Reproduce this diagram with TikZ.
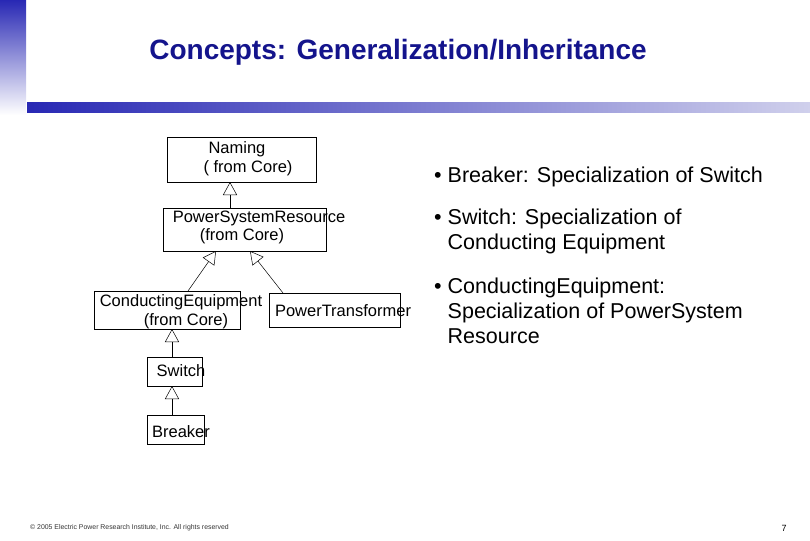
\documentclass[tikz,border=0pt]{standalone}
\usepackage{fontspec}
\setmainfont{Liberation Sans}
\usetikzlibrary{arrows.meta}
\definecolor{navy}{HTML}{14148C}
\definecolor{barblue}{HTML}{2828B4}
\definecolor{barlight}{HTML}{D0D0EC}
\begin{document}
\begin{tikzpicture}[x=1pt,y=-1pt,
  box/.style={draw,line width=0.6pt},
  lbl/.style={inner sep=0pt,font=\fontsize{16.5}{18}\selectfont},
  gen/.style={line width=0.5pt,-{Triangle[open,length=13pt,width=14pt]}},
  bul/.style={anchor=west,align=left,inner sep=0pt,font=\fontsize{21.5}{25}\selectfont}]
\useasboundingbox (0,0) rectangle (810,540);
\shade[top color=barblue,bottom color=white] (0,0) rectangle (26,115);
\shade[left color=barblue,right color=barlight] (27,103) rectangle (810,113);
\node[font=\fontsize{28}{32}\selectfont\bfseries,text=navy] (title) at (398,52) {Concepts: Generalization/Inheritance};
% boxes
\draw[box] (167,137) rectangle (316,182);
\coordinate (nb) at (230,182);
\node[lbl] (n1) at (237,149) {Naming};
\node[lbl] (n2) at (248,168) {( from Core)};
\draw[box] (163,208) rectangle (326,251);
\coordinate (pt) at (230,208);
\coordinate (pb1) at (216,251);
\coordinate (pb2) at (250,251);
\node[lbl] (p1) at (259,218) {PowerSystemResource};
\node[lbl] (p2) at (242,236) {(from Core)};
\draw[box] (94,291) rectangle (240,329);
\coordinate (ct) at (188,291);
\coordinate (cb) at (172,329);
\node[lbl] (c1) at (181,302) {ConductingEquipment};
\node[lbl] (c2) at (186,321) {(from Core)};
\draw[box] (269,293) rectangle (400,327);
\coordinate (tt) at (283,293);
\node[lbl] (t1) at (343,311) {PowerTransformer};
\draw[box] (147,357) rectangle (202,386);
\coordinate (st) at (172,357);
\coordinate (sb) at (172,386);
\node[lbl] (s1) at (181,371) {Switch};
\draw[box] (147,415) rectangle (204,444);
\coordinate (bt) at (172,415);
\node[lbl] (b1) at (181,432) {Breaker};
\draw[gen] (pt) -- (nb);
\draw[gen] (ct) -- (pb1);
\draw[gen] (tt) -- (pb2);
\draw[gen] (st) -- (cb);
\draw[gen] (bt) -- (sb);
% bullets
\node[bul] (bu1) at (434,177) {• Breaker: Specialization of Switch};
\node[bul] (bu2) at (434,231) {• Switch: Specialization of\\\hphantom{• }Conducting Equipment};
\node[bul] (bu3) at (434,311) {• ConductingEquipment:\\\hphantom{• }Specialization of PowerSystem\\\hphantom{• }Resource};
\node[anchor=west,inner sep=0pt,font=\fontsize{6.9}{8}\selectfont,text=black!80] (foot) at (30,528) {© 2005 Electric Power Research Institute, Inc. All rights reserved};
\node[inner sep=0pt,font=\fontsize{9}{10}\selectfont] (pg) at (784,528) {7};
\end{tikzpicture}
\end{document}
